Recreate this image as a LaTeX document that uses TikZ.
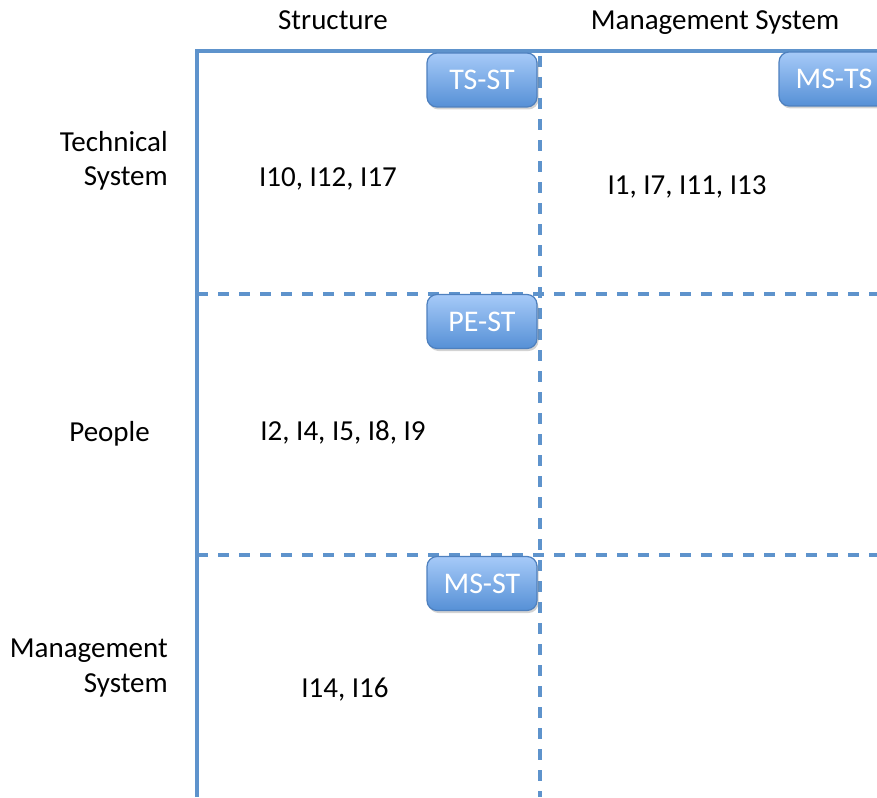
\documentclass[tikz,border=0pt]{standalone}
\usepackage{fontspec}
\setmainfont{Carlito}
\usetikzlibrary{shadows}
\definecolor{gridblue}{RGB}{94,147,204}
\definecolor{tagtop}{RGB}{166,202,248}
\definecolor{tagbot}{RGB}{86,144,214}
\definecolor{tagedge}{RGB}{78,128,190}
\tikzset{
  solidline/.style={draw=gridblue, line width=3.5pt},
  dashline/.style={draw=gridblue, line width=3.5pt, dash pattern=on 11pt off 10pt},
  tag/.style={draw=tagedge, line width=1.2pt, rounded corners=10pt,
    top color=tagtop, bottom color=tagbot, text=white,
    minimum width=110pt, minimum height=54pt, inner sep=0pt,
    font=\fontsize{30}{34}\selectfont,
    drop shadow={shadow xshift=1.5pt, shadow yshift=-2.5pt, opacity=0.35}},
  lbl/.style={font=\fontsize{29}{34}\selectfont, inner sep=0pt},
}
\begin{document}
\begin{tikzpicture}[x=1pt, y=-1pt]
\useasboundingbox (0,0) rectangle (877,797);
\clip (0,0) rectangle (877,797);
% grid lines
\draw[dashline] (197,294) -- (877,294);
\draw[dashline] (197,555) -- (877,555);
\draw[dashline] (540,56) -- (540,797);
\draw[solidline] (197,797) -- (197,51) -- (877,51);
% tags
\node[tag] (tsst) at (482,80) {TS-ST};
\node[tag] (msts) at (834,79) {MS-TS};
\node[tag] (pest) at (482,321.5) {PE-ST};
\node[tag] (msst) at (482,583.5) {MS-ST};
% column headers
\node[lbl, anchor=base] (hstruct) at (333,30) {Structure};
\node[lbl, anchor=base] (hms) at (715,30) {Management System};
% row labels
\node[lbl, anchor=base east] (rts1) at (168,151) {Technical};
\node[lbl, anchor=base east] (rts2) at (168,185) {System};
\node[lbl, anchor=base east] (rpe) at (150,441) {People};
\node[lbl, anchor=base east] (rms1) at (168,657) {Management};
\node[lbl, anchor=base east] (rms2) at (168,692) {System};
% cell contents
\node[lbl, anchor=base] (c1) at (328,186) {I10, I12, I17};
\node[lbl, anchor=base] (c2) at (687,194) {I1, I7, I11, I13};
\node[lbl, anchor=base] (c3) at (343,440) {I2, I4, I5, I8, I9};
\node[lbl, anchor=base] (c4) at (345,697) {I14, I16};
\end{tikzpicture}
\end{document}
